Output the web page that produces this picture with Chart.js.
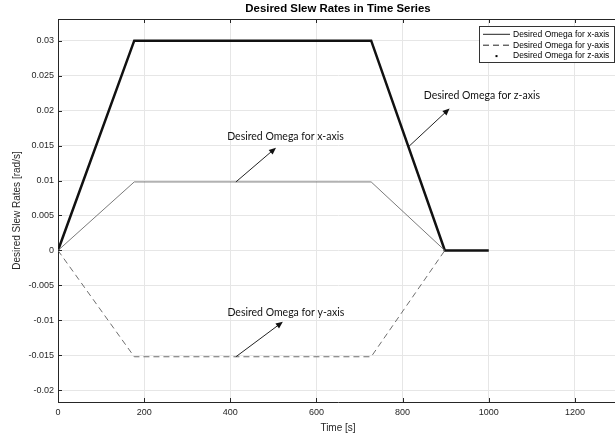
<!DOCTYPE html>
<html>
<head>
<meta charset="utf-8">
<script src="https://cdn.jsdelivr.net/npm/chart.js@4/dist/chart.umd.min.js"></script>
<style>
  body { margin: 0; background: #fff; overflow: hidden; }
  #wrap { width: 618px; height: 438px; }
</style>
</head>
<body>
<div id="wrap"><canvas id="myChart" width="618" height="438"></canvas></div>
<script>
// slew rate profiles
const timeX = [0, 177, 727, 898];
const omegaX = [0, 0.0098, 0.0098, 0];
const timeY = [0, 177, 727, 898];
const omegaY = [0, -0.0152, -0.0152, 0];
const timeZ = [0, 177, 727, 898, 1000];
const omegaZ = [0, 0.03, 0.03, 0, 0];

const seriesNames = ['Desired Omega for x-axis', 'Desired Omega for y-axis', 'Desired Omega for z-axis'];
const chartTitle = 'Desired Slew Rates in Time Series';

// text callouts: [label, textX, textY, arrowFromX, arrowFromY, arrowToX, arrowToY] (data units)
const callouts = [
  ['Desired Omega for x-axis', 528, 0.0163, 413, 0.0098, 506, 0.0147],
  ['Desired Omega for z-axis', 984, 0.0221, 814, 0.01485, 909, 0.0203],
  ['Desired Omega for y-axis', 529, -0.0089, 413, -0.0152, 522, -0.0102]
];

const toPoints = (xs, ys) => xs.map((t, i) => ({ x: t, y: ys[i] }));
const AXIS = '#262626';
const FONT = "'Liberation Sans', Arial, sans-serif";

// matlab-ish extras: title over the axes, inward ticks, top box line, legend, arrows
const matlabBits = {
  id: 'matlabBits',
  afterDraw(chart) {
    const { ctx, chartArea, scales } = chart;
    const { left, right, top, bottom } = chartArea;
    const x = scales.x, y = scales.y;
    ctx.save();

    ctx.font = 'bold 11.4px ' + FONT;
    ctx.fillStyle = '#000';
    ctx.textAlign = 'center';
    ctx.textBaseline = 'middle';
    ctx.fillText(chartTitle, (left + right) / 2, 8.5);

    ctx.strokeStyle = AXIS;
    ctx.lineWidth = 1;
    ctx.beginPath();
    ctx.moveTo(left, top + 0.5);
    ctx.lineTo(right, top + 0.5);
    x.ticks.forEach(t => {
      const px = Math.round(x.getPixelForValue(t.value)) + 0.5;
      ctx.moveTo(px, bottom); ctx.lineTo(px, bottom - 4);
      ctx.moveTo(px, top); ctx.lineTo(px, top + 4);
    });
    y.ticks.forEach(t => {
      const py = Math.round(y.getPixelForValue(t.value)) + 0.5;
      ctx.moveTo(left, py); ctx.lineTo(left + 4, py);
    });
    ctx.stroke();

    // legend
    const lx = 479.5, ly = 26.5, lw = 135, lh = 36;
    ctx.fillStyle = '#fff';
    ctx.fillRect(lx, ly, lw, lh);
    ctx.strokeStyle = '#333';
    ctx.strokeRect(lx, ly, lw, lh);
    ctx.font = '8.5px ' + FONT;
    ctx.textAlign = 'left';
    ctx.fillStyle = '#000';
    seriesNames.forEach((name, i) => {
      const rowY = ly + 7.8 + i * 10.9;
      ctx.strokeStyle = '#222';
      ctx.lineWidth = 1;
      if (i === 0) {
        ctx.setLineDash([]);
        ctx.beginPath(); ctx.moveTo(483, rowY); ctx.lineTo(510, rowY); ctx.stroke();
      } else if (i === 1) {
        ctx.setLineDash([6, 4]);
        ctx.beginPath(); ctx.moveTo(483, rowY); ctx.lineTo(510, rowY); ctx.stroke();
        ctx.setLineDash([]);
      } else {
        ctx.fillRect(495.5, rowY - 1, 2, 2);
      }
      ctx.fillText(name, 513, rowY);
    });

    // callouts
    ctx.font = '10.5px Lato, sans-serif';
    ctx.textAlign = 'center';
    ctx.fillStyle = '#111';
    callouts.forEach(c => {
      ctx.fillText(c[0], x.getPixelForValue(c[1]), y.getPixelForValue(c[2]));
      const x0 = x.getPixelForValue(c[3]), y0 = y.getPixelForValue(c[4]);
      const x1 = x.getPixelForValue(c[5]), y1 = y.getPixelForValue(c[6]);
      const a = Math.atan2(y1 - y0, x1 - x0);
      ctx.strokeStyle = '#222';
      ctx.lineWidth = 1;
      ctx.beginPath(); ctx.moveTo(x0, y0); ctx.lineTo(x1 - 5 * Math.cos(a), y1 - 5 * Math.sin(a)); ctx.stroke();
      ctx.beginPath();
      ctx.moveTo(x1, y1);
      ctx.lineTo(x1 - 7 * Math.cos(a) + 3 * Math.sin(a), y1 - 7 * Math.sin(a) - 3 * Math.cos(a));
      ctx.lineTo(x1 - 7 * Math.cos(a) - 3 * Math.sin(a), y1 - 7 * Math.sin(a) + 3 * Math.cos(a));
      ctx.closePath();
      ctx.fill();
    });
    ctx.restore();
  }
};

new Chart(document.getElementById('myChart').getContext('2d'), {
  type: 'line',
  data: {
    datasets: [
      {
        label: seriesNames[0],
        data: toPoints(timeX, omegaX),
        borderColor: '#7a7a7a',
        borderWidth: 1,
        pointRadius: 0
      },
      {
        label: seriesNames[1],
        data: toPoints(timeY, omegaY),
        borderColor: '#6e6e6e',
        borderWidth: 1,
        borderDash: [6, 4],
        pointRadius: 0
      },
      {
        label: seriesNames[2],
        data: toPoints(timeZ, omegaZ),
        borderColor: '#111',
        borderWidth: 2.5,
        pointRadius: 0
      }
    ]
  },
  options: {
    responsive: false,
    animation: false,
    layout: { padding: { top: 19 } },
    elements: { line: { tension: 0 } },
    plugins: {
      legend: { display: false },
      tooltip: { enabled: false },
      title: { display: false }
    },
    scales: {
      x: {
        type: 'linear',
        min: 0,
        max: 1300,
        ticks: {
          stepSize: 200,
          color: AXIS,
          font: { family: FONT, size: 9 },
          padding: 5,
          maxRotation: 0,
          includeBounds: false,
          callback: v => String(v)
        },
        grid: { color: '#e6e6e6', drawTicks: false },
        border: { color: AXIS, width: 1 },
        title: { display: true, text: 'Time [s]', color: AXIS, font: { family: FONT, size: 10 }, padding: { top: 0, bottom: 4 } },
        afterFit: s => { s.height = 36; }
      },
      y: {
        min: -0.02167,
        max: 0.0331,
        ticks: {
          stepSize: 0.005,
          includeBounds: false,
          color: AXIS,
          font: { family: FONT, size: 9 },
          padding: 4,
          callback: v => String(parseFloat(v.toFixed(4)))
        },
        grid: { color: '#e6e6e6', drawTicks: false },
        border: { color: AXIS, width: 1 },
        title: { display: true, text: 'Desired Slew Rates [rad/s]', color: AXIS, font: { family: FONT, size: 10 }, padding: { top: 11, bottom: 0 } },
        afterFit: s => { s.width = 58; }
      }
    }
  },
  plugins: [matlabBits]
});
</script>
</body>
</html>
